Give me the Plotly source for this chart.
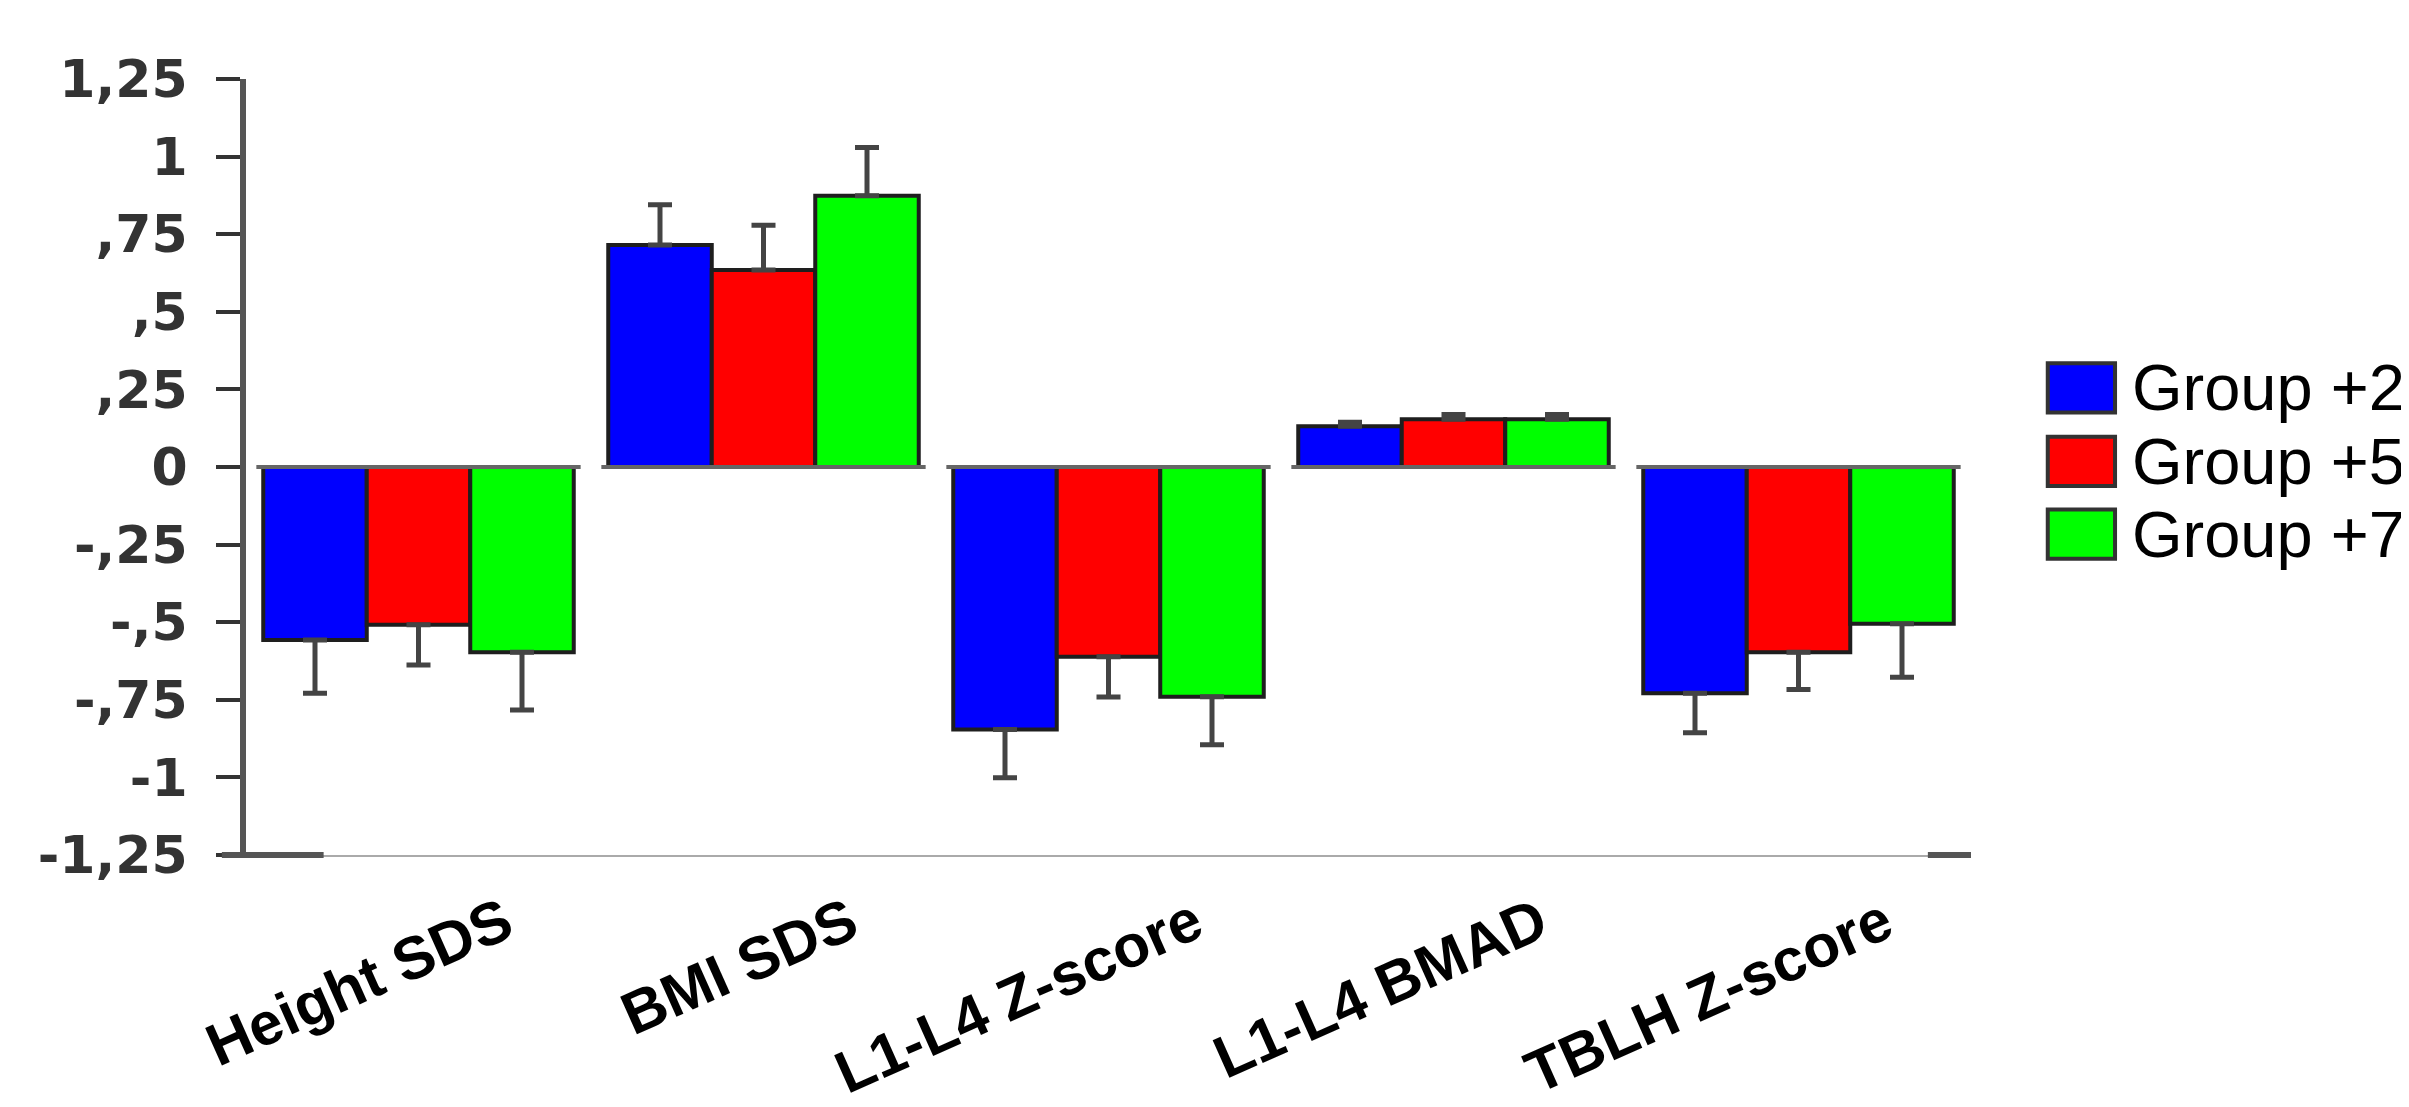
import plotly.graph_objects as go

categories = ["Height SDS", "BMI SDS", "L1-L4 Z-score", "L1-L4 BMAD", "TBLH Z-score"]
groups = ["Group +2", "Group +5", "Group +7"]
colors = ["#0000ff", "#ff0000", "#00ff00"]

group2 = [-0.557, 0.715, -0.846, 0.131, -0.729]
group5 = [-0.508, 0.635, -0.611, 0.154, -0.597]
group7 = [-0.597, 0.874, -0.740, 0.154, -0.505]

err2 = [0.172, 0.130, 0.155, 0.013, 0.127]
err5 = [0.130, 0.144, 0.130, 0.015, 0.120]
err7 = [0.186, 0.155, 0.155, 0.015, 0.172]

ytick_vals = [1.25, 1, 0.75, 0.5, 0.25, 0, -0.25, -0.5, -0.75, -1, -1.25]
ytick_text = ["1,25", "1", ",75", ",5", ",25", "0", "-,25", "-,5", "-,75", "-1", "-1,25"]

values = [group2, group5, group7]
errors = [err2, err5, err7]

fig = go.Figure()
for name, col, vals, errs in zip(groups, colors, values, errors):
    plus = [e if v >= 0 else 0 for v, e in zip(vals, errs)]
    minus = [e if v < 0 else 0 for v, e in zip(vals, errs)]
    fig.add_trace(go.Bar(
        name=name, x=categories, y=vals,
        marker=dict(color=col, line=dict(color="#1e1e1e", width=4)),
        error_y=dict(type="data", symmetric=False, array=plus, arrayminus=minus,
                     color="#444444", thickness=5, width=12),
        showlegend=False,
    ))

shapes = []
# per-group zero baselines
for i in range(len(categories)):
    shapes.append(dict(type="line", xref="x", yref="y", x0=i - 0.47, x1=i + 0.47,
                       y0=0, y1=0, line=dict(color="#666666", width=4), layer="above"))
# thick bottom axis segments
shapes.append(dict(type="line", xref="paper", yref="paper", x0=-0.014, x1=0.045, y0=0, y1=0,
                   line=dict(color="#555555", width=6)))
shapes.append(dict(type="line", xref="paper", yref="paper", x0=0.975, x1=1.0, y0=0, y1=0,
                   line=dict(color="#555555", width=6)))

# manual legend
annotations = []
leg_y = [0.602, 0.5072, 0.4135]
for name, col, yc in zip(groups, colors, leg_y):
    shapes.append(dict(type="rect", xref="paper", yref="paper",
                       x0=1.0445, x1=1.0835, y0=yc - 0.0318, y1=yc + 0.0318,
                       fillcolor=col, line=dict(color="#333333", width=4)))
    annotations.append(dict(text=name, xref="paper", yref="paper", x=1.092, y=yc,
                            xanchor="left", yanchor="middle", showarrow=False,
                            font=dict(family="Liberation Sans, Arial", size=65, color="#000000")))

fig.update_layout(
    width=2409, height=1107,
    margin=dict(l=238, r=446, t=71, b=260, autoexpand=False),
    paper_bgcolor="white", plot_bgcolor="white",
    barmode="group", bargap=0.1, bargroupgap=0,
    shapes=shapes, annotations=annotations,
    showlegend=False,
)
fig.update_xaxes(
    range=[-0.5, 4.5], showgrid=False, zeroline=False, automargin=False,
    showline=True, linecolor="#aaaaaa", linewidth=2,
    tickmode="array", tickvals=list(range(len(categories))), ticktext=categories,
    tickangle=-24, ticks="",
    tickfont=dict(family="Liberation Sans, Arial", size=60, color="#000000", weight="bold"),
    ticklabelshift=86, ticklabelstandoff=8,
)
fig.update_yaxes(
    range=[-1.25, 1.25], showgrid=False, zeroline=False, automargin=False,
    showline=True, linecolor="#555555", linewidth=6,
    tickmode="array", tickvals=ytick_vals, ticktext=ytick_text,
    ticks="outside", ticklen=24, tickwidth=4, tickcolor="#333333",
    tickfont=dict(family="DejaVu Sans", size=52, color="#333333", weight="bold"),
    ticklabelstandoff=18,
)

fig.write_html("out.html")
